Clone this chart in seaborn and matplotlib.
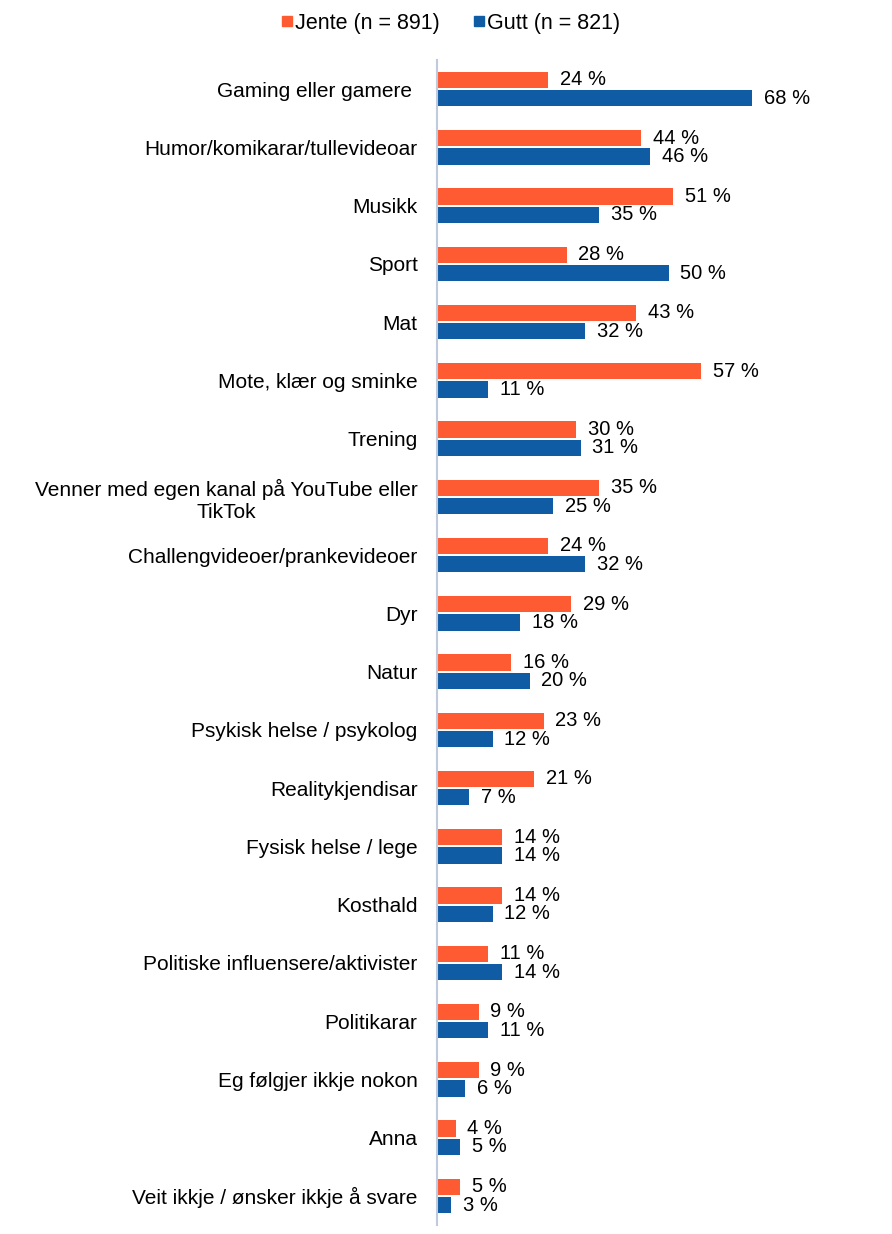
import pandas as pd
import matplotlib
matplotlib.use("Agg")
import matplotlib.pyplot as plt
import seaborn as sns
from matplotlib.lines import Line2D

categories = [
    "Gaming eller gamere ",
    "Humor/komikarar/tullevideoar",
    "Musikk",
    "Sport",
    "Mat",
    "Mote, klær og sminke",
    "Trening",
    "Venner med egen kanal på YouTube eller\nTikTok",
    "Challengvideoer/prankevideoer",
    "Dyr",
    "Natur",
    "Psykisk helse / psykolog",
    "Realitykjendisar",
    "Fysisk helse / lege",
    "Kosthald",
    "Politiske influensere/aktivister",
    "Politikarar",
    "Eg følgjer ikkje nokon",
    "Anna",
    "Veit ikkje / ønsker ikkje å svare",
]
jente = [24, 44, 51, 28, 43, 57, 30, 35, 24, 29, 16, 23, 21, 14, 14, 11, 9, 9, 4, 5]
gutt = [68, 46, 35, 50, 32, 11, 31, 25, 32, 18, 20, 12, 7, 14, 12, 14, 11, 6, 5, 3]
series = ["Jente (n = 891)", "Gutt (n = 821)"]
colors = ["#FF5B33", "#0F5CA5"]

df = pd.DataFrame({
    "kategori": categories * 2,
    "gruppe": [series[0]] * len(categories) + [series[1]] * len(categories),
    "verdi": jente + gutt,
})

sns.set_theme(style="white")
plt.rcParams["font.family"] = ["Liberation Sans", "DejaVu Sans"]

fig = plt.figure(figsize=(8.92, 12.34), dpi=100)
ax = fig.add_axes([437 / 892, 1 - 1225 / 1234, 440 / 892, 1165 / 1234])

sns.barplot(data=df, y="kategori", x="verdi", hue="gruppe", order=categories,
            hue_order=series, palette=colors, orient="h", width=0.63, gap=0.12,
            saturation=1, errorbar=None, legend=False, linewidth=0, ax=ax)

for cont in ax.containers:
    ax.bar_label(cont, labels=[f"{v:.0f} %" for v in cont.datavalues],
                 padding=8.5, fontsize=14.5, color="black")

ax.set_xlim(0, 95)
ax.set_ylim(len(categories) - 0.5, -0.5)
ax.set_xlabel("")
ax.set_ylabel("")
ax.set_xticks([])
ax.tick_params(axis="y", length=0, pad=14, labelsize=15, labelcolor="black")
for lbl in ax.get_yticklabels():
    lbl.set_horizontalalignment("right")
    lbl.set_multialignment("center")
for side in ["top", "right", "bottom"]:
    ax.spines[side].set_visible(False)
ax.spines["left"].set_color("#BFCBDD")
ax.spines["left"].set_linewidth(1.5)

handles = [Line2D([], [], marker="s", linestyle="none", markersize=7.5,
                  markerfacecolor=c, markeredgecolor=c) for c in colors]
fig.legend(handles, series, loc="center", bbox_to_anchor=(450 / 892, 1 - 23 / 1234),
           ncol=2, frameon=False, fontsize=15.5, handletextpad=0.0,
           columnspacing=1.5, handlelength=0.7, labelcolor="black")

fig.savefig("out.png", dpi=100)
